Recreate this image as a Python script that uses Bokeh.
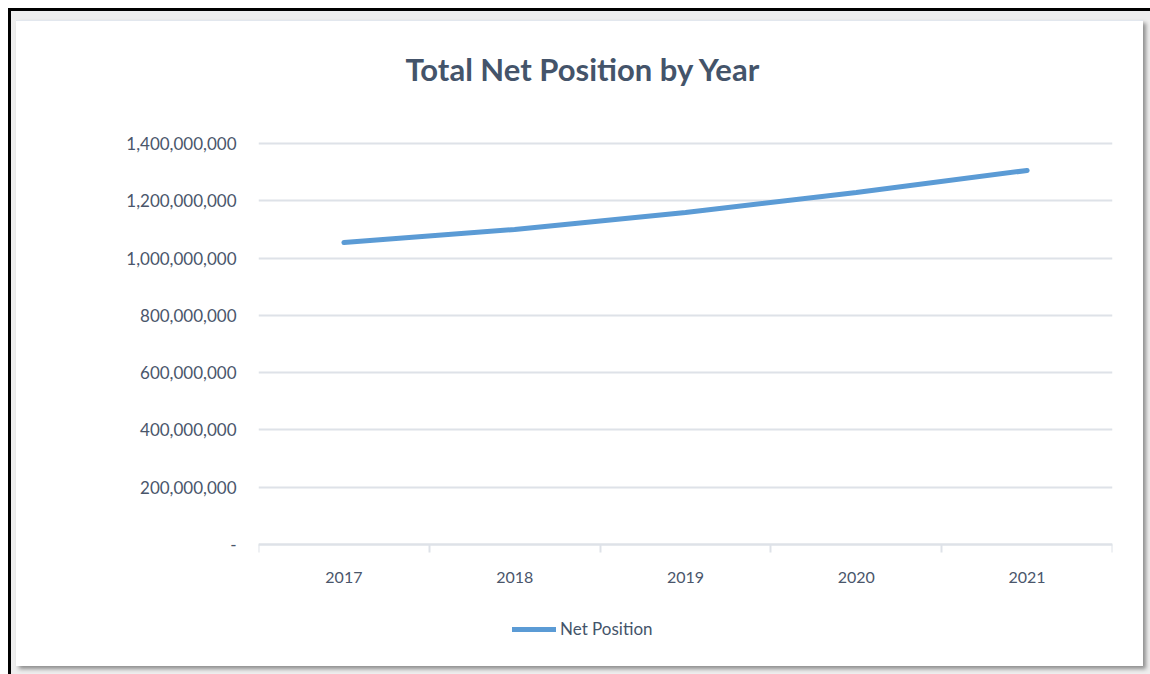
from bokeh.plotting import figure
from bokeh.models import Range1d, FixedTicker, Legend, LegendItem, NumeralTickFormatter, Column
from bokeh.embed import file_html
from bokeh.resources import INLINE

years = ["2017", "2018", "2019", "2020", "2021"]
net_position = [1054e6, 1100e6, 1159e6, 1229e6, 1306e6]
y_ticks = [0, 200e6, 400e6, 600e6, 800e6, 1000e6, 1200e6, 1400e6]
series_name = "Net Position"
title_text = "Total Net Position by Year"

FONT = "Lato"
TXT = "#44546A"
TICK_TXT = "#4a566b"
GRID = "#dee2e8"
LINE = "#5B9BD5"

# layout (pixels inside the card)
FIG_H = 646
FRAME_TOP = 66      # frame top (title panel sits above it)
TOP_TICK = 122      # where the highest tick sits
ZERO = 523          # where value 0 sits
BOTTOM_BORDER = 10  # frame reaches down to FIG_H - BOTTOM_BORDER
frame_bottom = FIG_H - BOTTOM_BORDER
span = ZERO - TOP_TICK
y_end = y_ticks[-1] * (1 + (TOP_TICK - FRAME_TOP) / span)
y_start = -y_ticks[-1] * (frame_bottom - ZERO) / span

xs = [i + 0.5 for i in range(len(years))]

p = figure(width=1127, height=FIG_H, output_backend="svg", toolbar_location=None,
           x_range=Range1d(0, len(years)), y_range=Range1d(y_start, y_end),
           min_border_left=242, min_border_right=31, min_border_top=FRAME_TOP,
           min_border_bottom=BOTTOM_BORDER, background_fill_color=None,
           border_fill_color=None)
p.outline_line_color = None

r = p.line(xs, net_position, line_color=LINE, line_width=5, line_cap="round")

p.title.text = title_text
p.title.align = "left"
p.title.offset = 147
p.title.standoff = 0
p.title.text_font = FONT
p.title.text_font_size = "31px"
p.title.text_font_style = "bold"
p.title.text_color = TXT

# x axis: ticks at category boundaries, labels at centres, drawn at value 0
xa = p.xaxis[0]
xa.fixed_location = 0
xa.ticker = FixedTicker(ticks=xs, minor_ticks=list(range(len(years) + 1)))
xa.major_label_overrides = {x: y for x, y in zip(xs, years)}
xa.major_tick_line_color = None
xa.major_tick_out = 0
xa.major_tick_in = 0
xa.minor_tick_line_color = GRID
xa.minor_tick_line_width = 2
xa.minor_tick_out = 8
xa.minor_tick_in = 0
xa.axis_line_color = GRID
xa.axis_line_width = 2
xa.major_label_standoff = 19
xa.major_label_text_font = FONT
xa.major_label_text_font_size = "16px"
xa.major_label_text_color = TICK_TXT

ya = p.yaxis[0]
ya.ticker = FixedTicker(ticks=y_ticks)
ya.formatter = NumeralTickFormatter(format="0,0")
ya.major_label_overrides = {0: "-"}
ya.axis_line_color = None
ya.major_tick_line_color = None
ya.minor_tick_line_color = None
ya.major_tick_out = 0
ya.major_label_standoff = 22
ya.major_label_text_font = FONT
ya.major_label_text_font_size = "17px"
ya.major_label_text_color = TICK_TXT

p.xgrid.grid_line_color = None
p.ygrid.ticker = FixedTicker(ticks=y_ticks)
p.ygrid.grid_line_color = GRID
p.ygrid.grid_line_width = 2

legend = Legend(items=[LegendItem(label=series_name, renderers=[r])],
                orientation="horizontal", location=(254, 18),
                border_line_color=None, background_fill_alpha=0,
                glyph_width=44, glyph_height=20, label_standoff=4,
                padding=0, margin=0, spacing=0,
                label_text_font=FONT, label_text_font_size="17px",
                label_text_color=TXT)
p.add_layout(legend, "center")

p.styles = {"background-color": "white",
            "box-shadow": "3px 3px 4px #8f8f8f",
            "border-top": "1px solid #e2e7ee"}
p.margin = (9, 0, 0, 5)

outer = Column(children=[p], width=1142, height=666,
               styles={"background-color": "#eeeeee",
                       "border-top": "3px solid black",
                       "border-left": "3px solid black"})
outer.margin = (8, 0, 0, 8)

open("out.html", "w").write(file_html(outer, INLINE))
